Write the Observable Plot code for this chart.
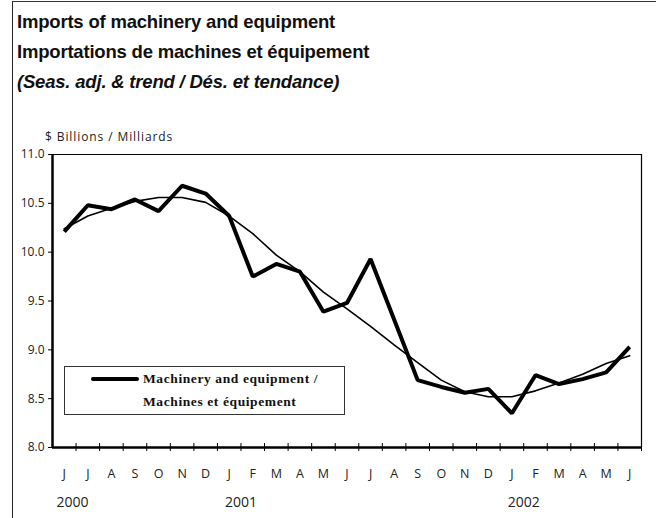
<!DOCTYPE html>
<html><head><meta charset="utf-8">
<script src="https://cdn.jsdelivr.net/npm/d3@7"></script>
<script src="https://cdn.jsdelivr.net/npm/@observablehq/plot@0.6"></script>
<style>
body{margin:0;background:#fff;}
#wrap{position:relative;width:656px;height:518px;overflow:hidden;font-family:"Liberation Sans",Arial,sans-serif;background:#fff;}
#frame{position:absolute;left:12px;top:1px;right:-4px;bottom:-4px;border-left:1.5px solid #222;border-top:1.5px solid #333;}
.t{position:absolute;left:17px;font-weight:bold;font-size:18.5px;line-height:18px;color:#111;white-space:nowrap;letter-spacing:-0.2px;}
#unit{position:absolute;left:45px;top:131px;font-family:"Open Sans",sans-serif;font-size:12px;line-height:12px;letter-spacing:0.9px;color:#222;white-space:nowrap;}
#chart{position:absolute;left:0;top:140px;}
#legend{position:absolute;left:64px;top:366px;width:279px;height:47px;border:1px solid #333;background:#fff;font-family:"Liberation Serif","Times New Roman",serif;font-weight:bold;font-size:13.5px;color:#111;}
#legend .ln{position:absolute;left:26px;top:10px;width:48px;height:4px;background:#000;border-radius:2px;}
#legend .tx{position:absolute;left:78px;white-space:nowrap;letter-spacing:0.6px;line-height:14px;}
</style>
</head><body>
<div id="wrap">
  <div id="frame"></div>
  <div class="t" style="top:13px">Imports of machinery and equipment</div>
  <div class="t" style="top:43px">Importations de machines et équipement</div>
  <div class="t" style="top:73px;font-style:italic">(Seas. adj. &amp; trend / Dés. et tendance)</div>
  <div id="unit">$ Billions / Milliards</div>
  <div id="chart"></div>
  <div id="legend">
    <div class="ln"></div>
    <div class="tx" style="top:5px">Machinery and equipment /</div>
    <div class="tx" style="top:28px">Machines et équipement</div>
  </div>
</div>
<script>
const monthLabels = ["J","J","A","S","O","N","D","J","F","M","A","M","J","J","A","S","O","N","D","J","F","M","A","M","J"];
const seasAdj = [10.21,10.48,10.44,10.54,10.42,10.68,10.60,10.37,9.75,9.88,9.80,9.39,9.48,9.93,9.31,8.69,8.62,8.56,8.60,8.35,8.74,8.65,8.70,8.77,9.03];
const trend   = [10.24,10.37,10.45,10.52,10.56,10.56,10.51,10.37,10.19,9.97,9.80,9.59,9.42,9.24,9.05,8.87,8.69,8.57,8.52,8.52,8.58,8.66,8.75,8.86,8.94];
const yTicks = [8.0,8.5,9.0,9.5,10.0,10.5,11.0];
const years = ["2000","2001","2002"];
const yearMonthIndex = [0.35,7.5,19.5];

const idx = monthLabels.map((_, i) => i);
const bounds = idx.map(i => i + 0.5);
const yearData = years.map((y, i) => ({year: y, at: yearMonthIndex[i]}));

const chart = Plot.plot({
  width: 656,
  height: 378,
  marginTop: 14,
  marginLeft: 52,
  marginRight: 15,
  marginBottom: 71,
  style: {background: "transparent", fontFamily: "'Open Sans', sans-serif", color: "#222"},
  x: {type: "linear", domain: [-0.5, monthLabels.length - 0.5], axis: null},
  y: {domain: [8, 11], axis: null},
  marks: [
    Plot.axisY(yTicks, {anchor: "left", tickFormat: d3.format(".1f"), tickSize: 4, tickPadding: 4, fontSize: 12, label: null, stroke: "#000"}),
    Plot.axisX(idx, {anchor: "bottom", tickSize: 0, tickPadding: 22, tickFormat: i => monthLabels[i], fontSize: 12.5, label: null}),
    Plot.ruleX(bounds, {x: d => d, y1: 8, y2: 8, insetTop: -4, insetBottom: -4, stroke: "#000", strokeWidth: 1}),
    Plot.ruleY([11], {stroke: "#000", strokeWidth: 1.2}),
    Plot.ruleX([monthLabels.length - 0.5], {stroke: "#000", strokeWidth: 1.2}),
    Plot.ruleX([-0.5], {stroke: "#000", strokeWidth: 2.5}),
    Plot.ruleY([8], {stroke: "#000", strokeWidth: 2.5}),
    Plot.line(trend, {x: (d, i) => i, y: d => d, stroke: "#000", strokeWidth: 1.6, strokeLinejoin: "round"}),
    Plot.line(seasAdj, {x: (d, i) => i, y: d => d, stroke: "#000", strokeWidth: 4, strokeLinejoin: "miter", strokeLinecap: "butt"}),
    Plot.text(yearData, {x: "at", text: "year", frameAnchor: "bottom", dy: 59, fontSize: 14, fill: "#222"})
  ]
});
document.getElementById("chart").appendChild(chart);
</script>
</body></html>
